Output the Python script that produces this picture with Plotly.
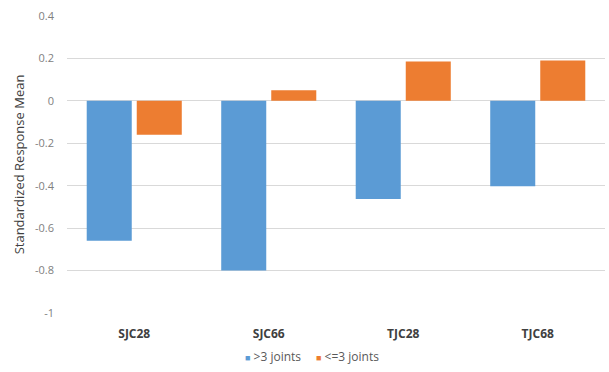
import plotly.graph_objects as go

categories = ["SJC28", "SJC66", "TJC28", "TJC68"]
more_than_3 = [-0.66, -0.80, -0.463, -0.403]
up_to_3 = [-0.16, 0.05, 0.185, 0.19]
series_names = [">3 joints", "<=3 joints"]
series_colors = ["#5B9BD5", "#ED7D31"]
y_ticks = [0.4, 0.2, 0, -0.2, -0.4, -0.6, -0.8, -1]
y_tick_text = ["0.4", "0.2", "0", "-0.2", "-0.4", "-0.6", "-0.8", "-1"]

font_family = "Open Sans, Noto Sans, sans-serif"

fig = go.Figure()
for name, color, values in zip(series_names, series_colors, [more_than_3, up_to_3]):
    fig.add_trace(go.Bar(x=categories, y=values, name=name, showlegend=False,
                         marker=dict(color=color, line=dict(width=0))))

# Compact legend: small coloured square right next to each series name
legend_x = [0.327, 0.459]
for name, color, lx in zip(series_names, series_colors, legend_x):
    fig.add_annotation(
        xref="paper", yref="paper", x=lx, y=-0.145,
        xanchor="left", yanchor="middle", showarrow=False,
        text=f"<span style='color:{color};font-size:9px'>■</span> {name}",
        font=dict(size=12, color="#595959", family=font_family),
    )

fig.update_layout(
    width=609, height=372,
    margin=dict(l=67, r=4, t=16, b=59),
    paper_bgcolor="white", plot_bgcolor="white",
    barmode="group", bargap=0.256, bargroupgap=0.1,
    font=dict(family=font_family, color="#595959", size=11),
    showlegend=False,
    xaxis=dict(showgrid=False, showline=False, ticks="", ticklabelstandoff=12,
               tickfont=dict(size=12, color="#404040", family=font_family,
                             weight="bold")),
    yaxis=dict(range=[-1, 0.4], tickvals=y_ticks, ticktext=y_tick_text,
               showgrid=True, gridcolor="#D9D9D9", gridwidth=1,
               zeroline=True, zerolinecolor="#D9D9D9", zerolinewidth=1,
               showline=False, ticks="", ticklabelstandoff=12,
               tickfont=dict(size=11, color="#808080"),
               title=dict(text="Standardized Response Mean",
                          font=dict(size=13, color="#404040"), standoff=7)),
)

fig.write_html("out.html")
